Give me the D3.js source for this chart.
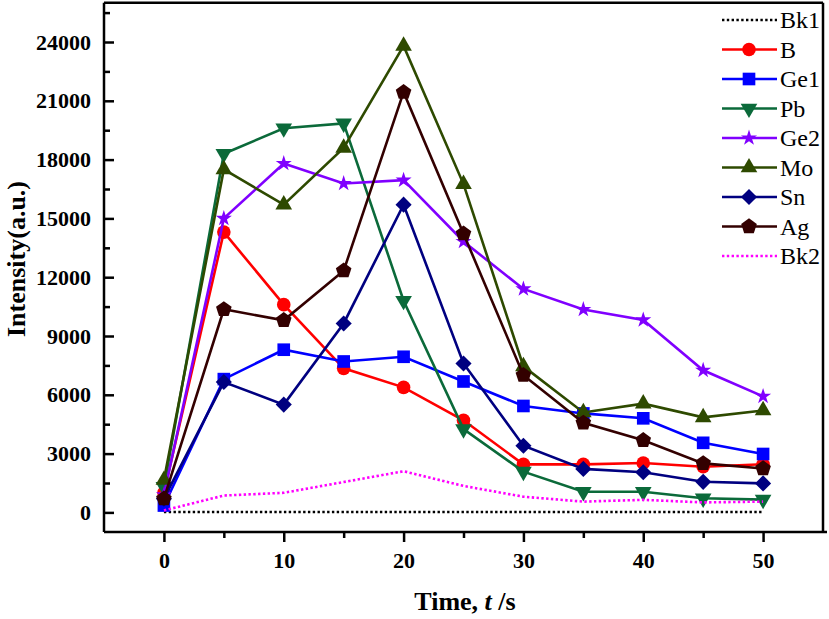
<!DOCTYPE html>
<html>
<head>
<meta charset="utf-8">
<script src="https://d3js.org/d3.v7.min.js"></script>
<style>
  html, body { margin: 0; padding: 0; background: #fff; }
  svg { display: block; }
  text { font-family: "Liberation Serif", "Times New Roman", Times, serif; fill: #000; }
</style>
</head>
<body>
<svg id="chart" width="829" height="619"></svg>
<script>
// ---- data ----
const times = [0, 5, 10, 15, 20, 25, 30, 35, 40, 45, 50];
const seriesNames = ["Bk1", "B", "Ge1", "Pb", "Ge2", "Mo", "Sn", "Ag", "Bk2"];
const Bk1 = [20, 20, 20, 20, 20, 20, 20, 20, 20, 20, 20];
const B   = [1000, 14300, 10600, 7350, 6380, 4700, 2450, 2450, 2520, 2330, 2460];
const Ge1 = [350, 6800, 8300, 7700, 7940, 6680, 5430, 5050, 4800, 3550, 2980];
const Pb  = [1300, 18300, 19600, 19850, 10800, 4250, 2080, 1050, 1050, 720, 650];
const Ge2 = [900, 15000, 17800, 16780, 16950, 13820, 11400, 10350, 9820, 7250, 5920];
const Mo  = [1650, 17500, 15700, 18600, 23800, 16750, 7450, 5100, 5550, 4850, 5200];
const Sn  = [700, 6650, 5500, 9640, 15700, 7600, 3400, 2220, 2050, 1560, 1480];
const Ag  = [700, 10360, 9800, 12330, 21440, 14220, 7000, 4570, 3680, 2500, 2240];
const Bk2 = [100, 860, 1000, 1550, 2100, 1350, 800, 550, 640, 510, 550];
const yTicks = [0, 3000, 6000, 9000, 12000, 15000, 18000, 21000, 24000];
const xTicks = [0, 10, 20, 30, 40, 50];

const valuesByName = { Bk1, B, Ge1, Pb, Ge2, Mo, Sn, Ag, Bk2 };

// ---- styles ----
const styles = {
  Bk1: { color: "#000000", dotted: true, marker: null },
  B:   { color: "#ff0000", marker: "circle" },
  Ge1: { color: "#0000ff", marker: "square" },
  Pb:  { color: "#0b6a3a", marker: "tdown" },
  Ge2: { color: "#8000ff", marker: "star" },
  Mo:  { color: "#2e4a00", marker: "tup" },
  Sn:  { color: "#000080", marker: "diamond" },
  Ag:  { color: "#330000", marker: "pentagon" },
  Bk2: { color: "#ff00ff", dotted: true, marker: null }
};

const svg = d3.select("#chart");
const L = 104, R = 823, T = 2.8, Bt = 532;

const x = d3.scaleLinear().domain([-5, 55]).range([L, R]);
const y = d3.scaleLinear().domain([-1000, 26000]).range([Bt, T]);

// ---- markers ----
function pentagonPath(r) {
  const pts = d3.range(5).map(i => {
    const a = -Math.PI / 2 + i * 2 * Math.PI / 5;
    return [r * Math.cos(a), r * Math.sin(a)];
  });
  return "M" + pts.map(p => p.join(",")).join("L") + "Z";
}
function markerAttrs(kind) {
  switch (kind) {
    case "circle": return { d: d3.symbol(d3.symbolCircle, 145)(), rot: 0 };
    case "square": return { d: d3.symbol(d3.symbolSquare, 160)(), rot: 0 };
    case "tup": return { d: d3.symbol(d3.symbolTriangle, 120)(), rot: 0 };
    case "tdown": return { d: d3.symbol(d3.symbolTriangle, 120)(), rot: 180 };
    case "star": return { d: d3.symbol(d3.symbolStar, 80)(), rot: 0 };
    case "diamond": return { d: d3.symbol(d3.symbolSquare, 130)(), rot: 45 };
    case "pentagon": return { d: pentagonPath(8.2), rot: 0 };
  }
  return null;
}

// ---- axes ----
const yAxis = d3.axisLeft(y).tickValues(yTicks).tickSize(-10).tickPadding(13).tickFormat(d3.format("d"));
const yMinor = d3.axisLeft(y).tickValues(d3.range(1500, 26000, 3000)).tickSize(-6).tickFormat("");
const xAxis = d3.axisBottom(x).tickValues(xTicks).tickSize(10).tickPadding(10).tickFormat(d3.format("d"));
const xMinor = d3.axisBottom(x).tickValues(d3.range(5, 50, 10)).tickSize(6).tickFormat("");

// frame top & right
svg.append("line").attr("x1", L).attr("x2", R).attr("y1", T).attr("y2", T)
  .attr("stroke", "#000").attr("stroke-width", 2.5);
svg.append("line").attr("x1", R).attr("x2", R).attr("y1", T).attr("y2", Bt)
  .attr("stroke", "#000").attr("stroke-width", 2.5);

function styleAxis(g) {
  g.select(".domain").attr("stroke-width", 2.5).attr("stroke", "#000");
  g.selectAll(".tick line").attr("stroke-width", 2.5).attr("stroke", "#000");
  g.selectAll(".tick text").attr("font-family", "'Liberation Serif', 'Times New Roman', serif")
    .attr("font-weight", "bold").attr("font-size", 22).attr("fill", "#000");
}

const gy = svg.append("g").attr("transform", `translate(${L},0)`).call(yAxis).call(styleAxis);
svg.append("g").attr("transform", `translate(${L},0)`).call(yMinor).call(styleAxis).select(".domain").remove();
const gx = svg.append("g").attr("transform", `translate(0,${Bt})`).call(xAxis).call(styleAxis);
svg.append("g").attr("transform", `translate(0,${Bt})`).call(xMinor).call(styleAxis).select(".domain").remove();
gy.select(".domain").attr("d", `M0,${T}V${Bt}`);
gx.select(".domain").attr("d", `M${L},0H${R + 4}`);

// ---- axis titles ----
svg.append("text")
  .attr("transform", `translate(16,259) rotate(-90)`)
  .attr("text-anchor", "middle").attr("dominant-baseline", "central")
  .attr("font-weight", "bold").attr("font-size", 26)
  .text("Intensity(a.u.)");

const xt = svg.append("text")
  .attr("x", 465).attr("y", 610).attr("text-anchor", "middle")
  .attr("font-weight", "bold").attr("font-size", 26);
xt.append("tspan").text("Time, ");
xt.append("tspan").attr("font-style", "italic").text("t");
xt.append("tspan").text(" /s");

// ---- series ----
const line = d3.line().x((d, i) => x(times[i])).y(d => y(d));
const plot = svg.append("g");

seriesNames.forEach(name => {
  const st = styles[name];
  const vals = valuesByName[name];
  const g = plot.append("g");
  g.append("path").datum(vals).attr("d", line)
    .attr("fill", "none").attr("stroke", st.color)
    .attr("stroke-width", 2.6)
    .attr("stroke-dasharray", st.dotted ? "2.4,2.4" : null);
  if (st.marker) {
    const m = markerAttrs(st.marker);
    g.selectAll("path.mk").data(vals).join("path").attr("class", "mk")
      .attr("d", m.d)
      .attr("transform", (d, i) => `translate(${x(times[i])},${y(d)}) rotate(${m.rot})`)
      .attr("fill", st.color);
  }
});

// ---- legend ----
const legY0 = 20, legDy = 29.5;
const leg = svg.append("g");
seriesNames.forEach((name, i) => {
  const st = styles[name];
  const cy = legY0 + i * legDy;
  const g = leg.append("g");
  g.append("line").attr("x1", 722).attr("x2", 777).attr("y1", cy).attr("y2", cy)
    .attr("stroke", st.color).attr("stroke-width", 2.6)
    .attr("stroke-dasharray", st.dotted ? "2.4,2.4" : null);
  if (st.marker) {
    const m = markerAttrs(st.marker);
    g.append("path").attr("d", m.d)
      .attr("transform", `translate(749,${cy}) rotate(${m.rot})`)
      .attr("fill", st.color);
  }
  g.append("text").attr("x", 780).attr("y", cy + 8)
    .attr("font-size", 24).text(name);
});
</script>
</body>
</html>
